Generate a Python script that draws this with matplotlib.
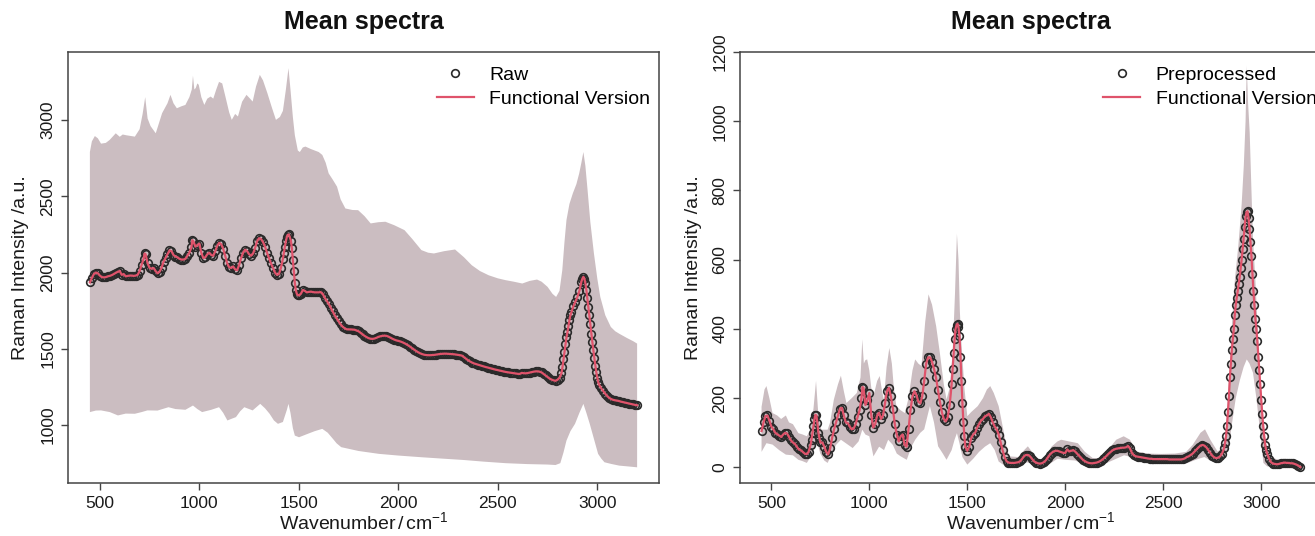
import numpy as np
import matplotlib
matplotlib.use("Agg")
import matplotlib.pyplot as plt
from matplotlib.lines import Line2D

plt.rcParams['font.family'] = ['Liberation Sans', 'DejaVu Sans']
plt.rcParams['mathtext.fontset'] = 'custom'
plt.rcParams['mathtext.rm'] = 'Liberation Sans'
plt.rcParams['mathtext.it'] = 'Liberation Sans:italic'

### DATA
# wavenumber grid of the mean spectra (cm^-1)
wavenumber = np.arange(450, 3201, 10)

raw_mean = [
    1935, 1965, 1990, 2000, 1995, 1980, 1970, 1968, 1970, 1975,
    1978, 1983, 1990, 1998, 2005, 2010, 1985, 1990, 1975, 1978,
    1980, 1980, 1978, 1980, 1985, 2010, 2050, 2090, 2120, 2060,
    2030, 2025, 2030, 2010, 1995, 2005, 2030, 2070, 2095, 2120,
    2145, 2140, 2115, 2105, 2100, 2090, 2085, 2085, 2090, 2110,
    2130, 2165, 2205, 2170, 2180, 2190, 2130, 2095, 2100, 2120,
    2130, 2115, 2110, 2140, 2175, 2195, 2185, 2155, 2110, 2060,
    2035, 2030, 2040, 2020, 2015, 2050, 2095, 2130, 2150, 2140,
    2120, 2110, 2125, 2160, 2205, 2225, 2220, 2200, 2170, 2130,
    2095, 2060, 2030, 2000, 1985, 1990, 2030, 2090, 2170, 2235,
    2250, 2210, 2080, 1930, 1860, 1850, 1860, 1885, 1880, 1870,
    1873, 1875, 1872, 1870, 1870, 1870, 1872, 1860, 1835, 1815,
    1795, 1770, 1745, 1720, 1700, 1680, 1660, 1645, 1635, 1628,
    1627, 1627, 1626, 1625, 1620, 1615, 1605, 1595, 1585, 1577,
    1570, 1566, 1565, 1567, 1572, 1578, 1582, 1585, 1586, 1585,
    1580, 1573, 1566, 1560, 1555, 1552, 1548, 1543, 1537, 1530,
    1522, 1513, 1503, 1494, 1485, 1477, 1470, 1465, 1461, 1459,
    1458, 1458, 1459, 1460, 1462, 1464, 1466, 1467, 1468, 1468,
    1467, 1466, 1465, 1464, 1462, 1460, 1458, 1455, 1445, 1435,
    1425, 1417, 1410, 1404, 1400, 1396, 1392, 1388, 1384, 1380,
    1377, 1373, 1370, 1366, 1363, 1360, 1357, 1354, 1351, 1348,
    1346, 1344, 1342, 1340, 1338, 1336, 1335, 1342, 1340, 1339,
    1341, 1344, 1347, 1350, 1352, 1352, 1350, 1345, 1335, 1325,
    1315, 1305, 1298, 1293, 1290, 1297, 1310, 1340, 1430, 1530,
    1610, 1690, 1740, 1780, 1810, 1840, 1880, 1940, 1972, 1930,
    1830, 1720, 1600, 1490, 1390, 1310, 1262, 1240, 1222, 1205,
    1190, 1178, 1170, 1165, 1162, 1160, 1157, 1153, 1150, 1147,
    1144, 1141, 1138, 1135, 1132, 1130,
]
# extra samples read on the steep flanks
raw_extra_wn = [725, 965, 1425, 1435, 1445, 1465, 1475, 1485, 1495, 2825, 2835, 2845, 2855, 2865,
                2925, 2935, 2945, 2955, 2965, 2975, 2985, 2995, 3005]
raw_extra = [2125, 2212, 2130, 2205, 2248, 2160, 2010, 1885, 1852, 1380, 1480, 1575, 1650, 1720,
             1960, 1960, 1885, 1775, 1660, 1545, 1440, 1345, 1280]

prep_mean = [
    105, 130, 148, 150, 135, 118, 110, 100, 96, 92,
    88, 95, 100, 98, 88, 78, 72, 68, 60, 52,
    50, 45, 40, 38, 45, 65, 100, 140, 150, 100,
    72, 72, 60, 45, 38, 55, 85, 110, 130, 150,
    170, 172, 150, 130, 128, 118, 110, 112, 125, 145,
    165, 200, 230, 180, 195, 215, 150, 115, 125, 150,
    158, 140, 150, 185, 220, 230, 205, 170, 125, 95,
    75, 90, 95, 65, 60, 110, 165, 205, 220, 210,
    190, 185, 205, 250, 300, 318, 318, 305, 285, 260,
    225, 190, 160, 140, 133, 145, 180, 240, 330, 400,
    415, 380, 250, 130, 60, 48, 60, 85, 95, 100,
    115, 125, 135, 140, 148, 150, 155, 145, 130, 118,
    110, 95, 72, 50, 30, 18, 14, 13, 13, 13,
    14, 15, 18, 25, 33, 36, 36, 32, 25, 18,
    14, 12, 11, 12, 15, 20, 28, 36, 42, 46,
    48, 48, 46, 44, 42, 42, 52, 46, 48, 50,
    46, 40, 34, 28, 22, 18, 15, 13, 12, 12,
    13, 14, 16, 19, 23, 28, 33, 39, 44, 49,
    52, 54, 55, 56, 57, 57, 58, 62, 55, 42,
    35, 32, 31, 30, 29, 28, 27, 26, 25, 25,
    24, 24, 24, 24, 24, 24, 24, 24, 23, 23,
    23, 23, 23, 23, 23, 24, 26, 30, 32, 36,
    40, 46, 52, 58, 63, 65, 63, 58, 50, 42,
    34, 29, 27, 28, 32, 40, 55, 90, 160, 260,
    340, 400, 470, 510, 550, 600, 660, 725, 740, 690,
    610, 510, 430, 365, 280, 196, 120, 65, 40, 25,
    15, 11, 10, 9, 10, 12, 13, 14, 13, 13,
    12, 12, 10, 8, 5, 1,
]
prep_extra_wn = [705, 715, 725, 735, 745, 965, 1425, 1435, 1445, 1455, 1465, 1475, 1485, 2815, 2825,
                 2835, 2845, 2855, 2865, 2875, 2885, 2895, 2905, 2915, 2925, 2935, 2945, 2955, 2965,
                 2975, 2985, 2995, 3005, 3015, 3025]
prep_extra = [80, 120, 152, 128, 85, 232, 285, 370, 412, 405, 320, 185, 90, 70, 120,
              205, 300, 370, 440, 490, 530, 575, 630, 695, 738, 720, 650, 560, 470,
              400, 320, 240, 155, 90, 50]

# spread bands (upper / lower envelopes)
raw_upper_wn = [450, 460, 475, 490, 506, 530, 549, 580, 600, 615, 633, 676, 700, 715, 728, 740, 755, 781,
                813, 840, 855, 870, 887, 910, 930, 950, 962, 968, 975, 982, 990, 997, 1010, 1025, 1040,
                1057, 1070, 1085, 1099, 1115, 1131, 1150, 1163, 1180, 1194, 1215, 1237, 1255, 1268, 1285,
                1304, 1320, 1342, 1365, 1385, 1405, 1420, 1435, 1448, 1458, 1470, 1480, 1495, 1505, 1520,
                1533, 1560, 1600, 1618, 1635, 1650, 1670, 1692, 1710, 1734, 1770, 1798, 1830, 1861, 1900,
                1935, 1980, 2031, 2070, 2116, 2150, 2179, 2230, 2285, 2330, 2369, 2410, 2454, 2500, 2539,
                2580, 2623, 2660, 2697, 2720, 2750, 2775, 2793, 2810, 2824, 2835, 2845, 2860, 2877, 2895,
                2909, 2920, 2930, 2940, 2951, 2965, 2983, 3000, 3015, 3040, 3068, 3090, 3110, 3150, 3180,
                3200]
raw_upper = [2790, 2860, 2895, 2880, 2845, 2850, 2869, 2913, 2890, 2905, 2900, 2891, 2940, 3040, 3150, 3010,
             2960, 2913, 3045, 3110, 3165, 3110, 3077, 3090, 3099, 3150, 3200, 3290, 3200, 3210, 3240, 3231,
             3150, 3099, 3140, 3154, 3140, 3200, 3250, 3240, 3154, 3050, 3001, 3040, 3023, 3120, 3165, 3140,
             3121, 3220, 3296, 3260, 3176, 3080, 3001, 3020, 3060, 3200, 3340, 3200, 3020, 2900, 2800, 2790,
             2820, 2826, 2810, 2790, 2771, 2720, 2650, 2610, 2563, 2480, 2420, 2410, 2409, 2370, 2322, 2330,
             2333, 2310, 2278, 2220, 2147, 2130, 2125, 2140, 2151, 2100, 2048, 2010, 1982, 1962, 1950, 1940,
             1928, 1945, 1954, 1940, 1906, 1860, 1840, 1880, 2015, 2200, 2344, 2450, 2519, 2580, 2650, 2720,
             2790, 2700, 2541, 2330, 2125, 1960, 1840, 1720, 1643, 1615, 1599, 1570, 1550, 1534]
raw_lower_wn = [450, 480, 506, 550, 591, 630, 676, 710, 739, 790, 845, 880, 930, 968, 990, 1014, 1060, 1099,
                1120, 1141, 1160, 1184, 1205, 1226, 1268, 1306, 1330, 1353, 1375, 1395, 1420, 1440, 1448,
                1458, 1470, 1480, 1501, 1544, 1580, 1618, 1645, 1671, 1690, 1713, 1800, 1903, 2000, 2116,
                2220, 2327, 2430, 2539, 2650, 2750, 2790, 2814, 2830, 2845, 2865, 2888, 2910, 2930, 2945,
                2962, 2985, 3004, 3020, 3036, 3070, 3110, 3160, 3200]
raw_lower = [1085, 1095, 1096, 1085, 1063, 1075, 1074, 1085, 1096, 1095, 1117, 1105, 1100, 1128, 1105, 1085,
             1100, 1117, 1080, 1030, 1040, 1052, 1090, 1117, 1096, 1139, 1110, 1074, 1030, 1008, 1020, 1100,
             1139, 1080, 980, 931, 920, 942, 960, 975, 950, 910, 880, 855, 830, 811, 800, 789, 780, 771, 760,
             750, 744, 741, 738, 750, 820, 898, 960, 1008, 1080, 1139, 1080, 1008, 900, 811, 780, 756, 745,
             734, 728, 723]

prep_upper_wn = [450, 465, 475, 490, 506, 530, 550, 574, 590, 610, 638, 660, 681, 700, 715, 728, 740, 755, 787,
                 800, 819, 840, 855, 870, 883, 910, 936, 955, 964, 972, 980, 989, 1000, 1010, 1021, 1040, 1053,
                 1065, 1074, 1088, 1102, 1115, 1125, 1138, 1160, 1181, 1200, 1220, 1234, 1250, 1266, 1285,
                 1302, 1320, 1341, 1360, 1380, 1394, 1410, 1425, 1437, 1447, 1455, 1462, 1470, 1485, 1500,
                 1520, 1553, 1580, 1600, 1617, 1635, 1660, 1680, 1700, 1713, 1760, 1790, 1809, 1830, 1850,
                 1873, 1900, 1930, 1960, 1979, 2020, 2064, 2100, 2140, 2170, 2210, 2260, 2298, 2330, 2362,
                 2420, 2490, 2560, 2617, 2650, 2690, 2713, 2740, 2777, 2800, 2819, 2835, 2851, 2865, 2883,
                 2900, 2911, 2920, 2926, 2933, 2941, 2950, 2958, 2970, 2979, 2995, 3011, 3025, 3043, 3080,
                 3120, 3160, 3200]
prep_upper = [175, 225, 235, 200, 157, 150, 140, 150, 130, 125, 99, 95, 90, 110, 170, 250, 150, 109, 109,
              130, 196, 240, 265, 220, 186, 200, 215, 260, 370, 300, 310, 312, 280, 230, 206, 250, 264, 220,
              196, 290, 345, 300, 230, 177, 165, 157, 200, 280, 312, 300, 293, 420, 500, 470, 408, 330, 240,
              196, 230, 330, 500, 675, 600, 450, 360, 230, 148, 160, 177, 200, 225, 235, 215, 177, 120, 60,
              32, 30, 50, 61, 45, 25, 17, 30, 60, 75, 80, 75, 70, 45, 27, 27, 45, 80, 90, 80, 46, 40, 39, 40,
              45, 65, 100, 110, 80, 46, 55, 99, 250, 418, 540, 640, 760, 872, 1000, 1160, 1050, 968, 800, 659,
              540, 437, 260, 128, 70, 37, 22, 25, 22, 12]
prep_lower_wn = [450, 475, 506, 540, 574, 610, 638, 660, 681, 705, 730, 750, 770, 787, 810, 830, 855, 880, 915,
                 945, 964, 980, 1000, 1021, 1050, 1075, 1096, 1120, 1140, 1160, 1191, 1215, 1234, 1260, 1280,
                 1309, 1330, 1351, 1375, 1394, 1420, 1435, 1447, 1460, 1475, 1500, 1530, 1560, 1590, 1617,
                 1640, 1660, 1690, 1713, 1760, 1800, 1830, 1873, 1920, 1960, 2000, 2050, 2100, 2160, 2220,
                 2300, 2340, 2360, 2450, 2550, 2620, 2680, 2710, 2740, 2777, 2810, 2835, 2851, 2870, 2890,
                 2910, 2926, 2940, 2958, 2975, 2995, 3011, 3030, 3100, 3200]
prep_lower = [45, 70, 66, 50, 37, 35, 22, 18, 13, 35, 80, 40, 20, 13, 40, 65, 80, 70, 56, 75, 109, 95, 90,
              32, 60, 50, 80, 65, 40, 32, 22, 60, 80, 100, 110, 177, 130, 61, 40, 22, 50, 80, 99, 70, 30, 8,
              25, 45, 60, 70, 50, 17, 5, 3, 3, 15, 12, 3, 10, 25, 22, 20, 8, 2, 15, 35, 30, 20, 15, 12, 12,
              25, 30, 20, 15, 30, 60, 128, 200, 250, 290, 312, 300, 273, 200, 100, 13, 3, 2, -5]

x_ticks = [500, 1000, 1500, 2000, 2500, 3000]
raw_yticks = [1000, 1500, 2000, 2500, 3000]
prep_yticks = [0, 200, 400, 600, 800, 1000, 1200]

BAND = '#CBBDC1'
RED = '#DF536B'
DARK = '#2a2a2a'
W, H = 1315, 536


def panel(rect, mean, extra_wn, extra, up_x, up_y, lo_x, lo_y, yticks, ylim, point_label):
    ax = fig.add_axes(rect)
    ax.fill(np.concatenate([up_x, lo_x[::-1]]), np.concatenate([up_y, lo_y[::-1]]),
            color=BAND, lw=0, zorder=1)

    # merge the regular grid with the extra flank samples
    wn = np.concatenate([wavenumber, extra_wn])
    val = np.concatenate([mean, extra])
    order = np.argsort(wn, kind='stable')
    wn, val = wn[order], val[order]

    ax.plot(wn, val, 'o', mfc='none', mec=DARK, ms=5.5, mew=1.2, zorder=2)
    ax.plot(wn, val, '-', color=RED, lw=1.6, zorder=3)

    ax.set_xlim(340, 3310)
    ax.set_ylim(*ylim)
    ax.set_xticks(x_ticks)
    ax.set_yticks(yticks)
    ax.tick_params(length=5, width=1, color='#444444', labelsize=12.5, labelcolor='#1a1a1a', pad=4)
    for lab in ax.get_yticklabels():
        lab.set_rotation(90)
        lab.set_va('center')
    for s in ax.spines.values():
        s.set_color('#444444')
        s.set_linewidth(1.1)

    ax.set_ylabel('Raman Intensity /a.u.', fontsize=14, color='#1a1a1a')
    ax.yaxis.set_label_coords(-0.066, 0.5)
    ax.set_xlabel('Wavenumber$\\,/\\,$cm$^{-1}$', fontsize=14, color='#1a1a1a')
    ax.xaxis.set_label_coords(0.5, -0.066)

    handles = [Line2D([], [], ls='none', marker='o', mfc='none', mec=DARK, ms=5.5, mew=1.2),
               Line2D([], [], color=RED, lw=1.6)]
    ax.legend(handles, [point_label, 'Functional Version'], loc='upper left',
              bbox_to_anchor=(0.624, 0.966), frameon=False, fontsize=14,
              handlelength=1.9, handletextpad=0.8, labelspacing=0.3,
              borderpad=0, borderaxespad=0)
    fig.text(rect[0] + rect[2] / 2, 1 - 22 / H, 'Mean spectra', ha='center', va='center',
             fontsize=18, fontweight='bold', color='#111111')
    return ax


fig = plt.figure(figsize=(W / 100, H / 100), dpi=100)

bottom = (H - 483) / H
height = 431 / H
panel([68 / W, bottom, 591 / W, height], raw_mean, raw_extra_wn, raw_extra,
      np.array(raw_upper_wn), np.array(raw_upper), np.array(raw_lower_wn), np.array(raw_lower),
      raw_yticks, (620, 3446), 'Raw')
panel([740 / W, bottom, 582 / W, height], prep_mean, prep_extra_wn, prep_extra,
      np.array(prep_upper_wn), np.array(prep_upper), np.array(prep_lower_wn), np.array(prep_lower),
      prep_yticks, (-45, 1200), 'Preprocessed')

fig.savefig('out.png', dpi=100)
